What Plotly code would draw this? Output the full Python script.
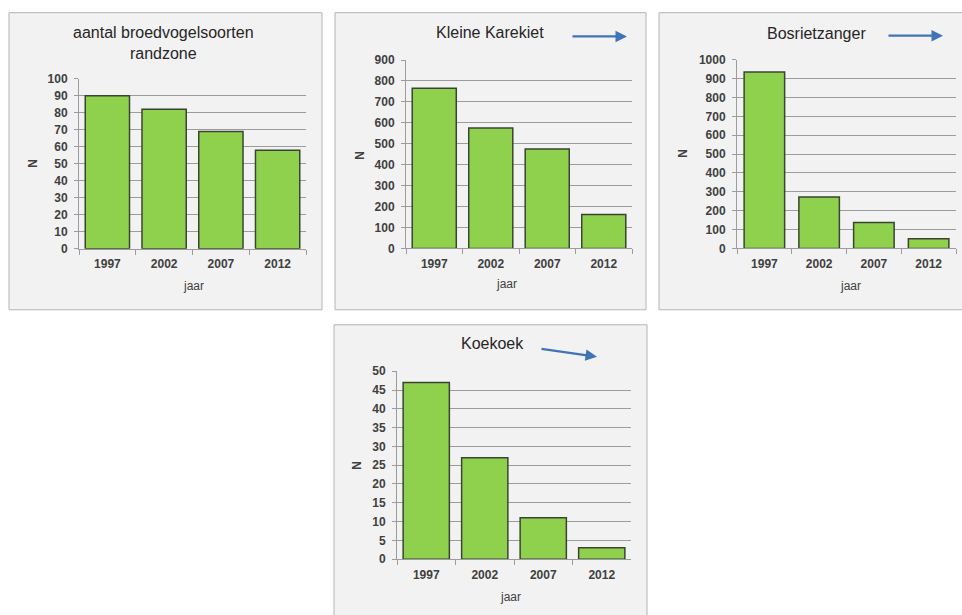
import plotly.graph_objects as go

W, H = 962, 615

# ---- data ----
years = ["1997", "2002", "2007", "2012"]
panel_titles = ["aantal broedvogelsoorten<br>randzone", "Kleine Karekiet", "Bosrietzanger", "Koekoek"]
soorten_randzone = [90, 82, 69, 58]
kleine_karekiet = [765, 575, 475, 162]
bosrietzanger = [935, 272, 138, 52]
koekoek = [47, 27, 11, 3]
series = [soorten_randzone, kleine_karekiet, bosrietzanger, koekoek]
y_max = [100, 900, 1000, 50]
y_step = [10, 100, 100, 5]
x_title = "jaar"
y_title = "N"

# ---- layout geometry (target pixels) ----
panels = [(9, 12, 322, 309), (335, 12, 646, 309), (659, 12, 966, 309), (334, 324, 647, 630)]
panel_bottom_border = [True, True, True, False]
plots = [(79, 78, 306, 248), (406, 59.3, 632, 247.7), (737, 59, 956, 247.7), (397, 370.5, 631, 558.3)]
title_pos = [(163, 42.5), (490, 31.7), (816, 32.7), (492, 343)]
n_pos = [(33, 163), (360, 155), (683, 153), (357, 465)]
jaar_pos = [(193, 285), (506, 283), (850, 285), (510, 596)]
arrows = [None, ((571, 35.7), (627, 35.7)), ((887, 35), (943, 35)), ((540, 348), (597, 356))]
bar_widths = [0.78, 0.78, 0.74, 0.79]

FONT = "Liberation Sans, Arial, sans-serif"
TXT = "#404040"
GRID = "#9C9C9C"
BORDER = "#B4B4B4"

# the rendered page shows the figure slightly squeezed vertically; compensate
Y_OFF, Y_SCALE = 6.3, 0.977


def fx(px):
    return px / W


def fy(py):
    return 1 - ((py - Y_OFF) / Y_SCALE) / H


fig = go.Figure()
shapes = []
annotations = []
layout = {}

for i in range(4):
    n = "" if i == 0 else str(i + 1)
    x0, y0, x1, y1 = panels[i]
    shapes.append(dict(type="rect", xref="paper", yref="paper", x0=fx(x0), x1=fx(x1), y0=fy(y1), y1=fy(y0),
                       fillcolor="#F2F2F2", line=dict(width=0), layer="below"))
    if panel_bottom_border[i]:
        path = f"M {fx(x0)} {fy(y1)} L {fx(x0)} {fy(y0)} L {fx(x1)} {fy(y0)} L {fx(x1)} {fy(y1)} Z"
    else:
        path = f"M {fx(x0)} {fy(y1)} L {fx(x0)} {fy(y0)} L {fx(x1)} {fy(y0)} L {fx(x1)} {fy(y1)}"
    shapes.append(dict(type="path", xref="paper", yref="paper", path=path,
                       line=dict(color=BORDER, width=1), layer="below"))
    px0, py0, px1, py1 = plots[i]
    fig.add_trace(go.Bar(x=years, y=series[i], xaxis="x" + n, yaxis="y" + n, width=bar_widths[i],
                         marker=dict(color="#8FD14C", line=dict(color="#394433", width=1.5)),
                         showlegend=False, hoverinfo="x+y"))
    layout["xaxis" + n] = dict(domain=[fx(px0), fx(px1)], anchor="y" + n, type="category",
                               showline=True, linecolor=GRID, linewidth=1, ticks="outside",
                               tickson="boundaries", ticklen=5, tickcolor=GRID, showgrid=False,
                               ticklabelstandoff=4,
                               tickfont=dict(family=FONT, size=12, color=TXT, weight="bold"),
                               fixedrange=True)
    layout["yaxis" + n] = dict(domain=[fy(py1), fy(py0)], anchor="x" + n, range=[0, y_max[i]],
                               dtick=y_step[i], showline=True, linecolor=GRID, linewidth=1,
                               ticks="outside", ticklen=4, tickcolor=GRID, showgrid=True,
                               gridcolor=GRID, gridwidth=1, zeroline=False, ticklabelstandoff=4,
                               tickfont=dict(family=FONT, size=12, color=TXT, weight="bold"),
                               fixedrange=True)
    tx, ty = title_pos[i]
    annotations.append(dict(text=panel_titles[i], x=fx(tx), y=fy(ty), xref="paper", yref="paper",
                            xanchor="center", yanchor="middle", showarrow=False,
                            font=dict(family=FONT, size=16, color="#262626")))
    nx, ny = n_pos[i]
    annotations.append(dict(text=y_title, x=fx(nx), y=fy(ny), xref="paper", yref="paper",
                            xanchor="center", yanchor="middle", showarrow=False, textangle=-90,
                            font=dict(family=FONT, size=12, color=TXT, weight="bold")))
    jx, jy = jaar_pos[i]
    annotations.append(dict(text=x_title, x=fx(jx), y=fy(jy), xref="paper", yref="paper",
                            xanchor="center", yanchor="middle", showarrow=False,
                            font=dict(family=FONT, size=12, color=TXT)))
    if arrows[i]:
        (ax0, ay0), (ax1, ay1) = arrows[i]
        annotations.append(dict(text="", x=fx(ax1), y=fy(ay1), xref="paper", yref="paper",
                                ax=ax0 - ax1, ay=(ay0 - ay1) / Y_SCALE, showarrow=True, arrowhead=2,
                                arrowsize=1, arrowwidth=2.3, arrowcolor="#3F74B8", standoff=0))

fig.update_layout(width=W, height=H, margin=dict(l=0, r=0, t=0, b=0),
                  paper_bgcolor="white", plot_bgcolor="rgba(0,0,0,0)",
                  shapes=shapes, annotations=annotations, **layout)

fig.write_html("out.html", config={"displayModeBar": False},
               post_script="document.body.style.margin='0';document.body.style.overflow='hidden';")
